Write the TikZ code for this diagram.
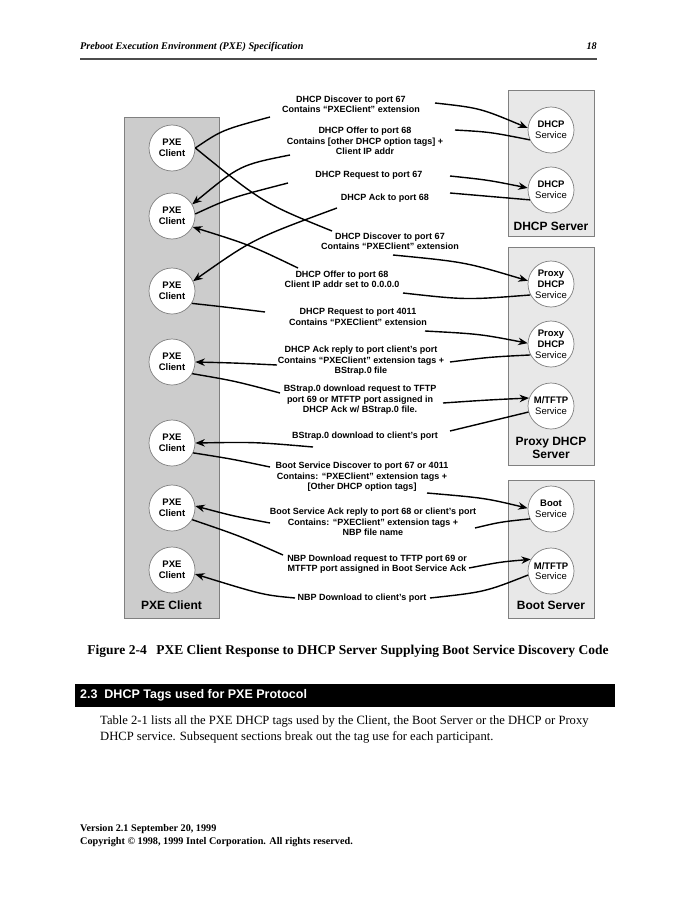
\documentclass[tikz,border=0pt]{standalone}
\usepackage{fontspec}
\setmainfont{Liberation Serif}
\setsansfont{Liberation Sans}
\usetikzlibrary{arrows.meta}

\definecolor{clientgray}{gray}{0.80}
\definecolor{servergray}{gray}{0.91}
\definecolor{edgegray}{gray}{0.50}

\tikzset{
  clientbox/.style={draw=edgegray, fill=clientgray, line width=0.8pt},
  serverbox/.style={draw=edgegray, fill=servergray, line width=0.8pt},
  station/.style={circle, draw=edgegray, fill=white, line width=0.7pt,
    minimum size=46pt, inner sep=0pt, align=center,
    font=\sffamily\fontsize{9.5}{10.8}\selectfont},
  msg/.style={align=center, inner sep=0pt,
    font=\sffamily\bfseries\fontsize{9}{10.4}\selectfont},
  boxlabel/.style={align=center, inner sep=0pt,
    font=\sffamily\bfseries\fontsize{12}{13.5}\selectfont},
  wire/.style={line width=1.4pt},
  send/.style={wire, -{Stealth[length=9.5pt,width=7.5pt]}},
}

\begin{document}
\begin{tikzpicture}[x=1pt,y=-1pt]
    \useasboundingbox (0,0) rectangle (695,899);
    \fill[white] (0,0) rectangle (695,899);

    % page header
    \node[anchor=base west, inner sep=0pt, font=\bfseries\itshape\fontsize{10.2}{12}\selectfont] (title) at (80,50) {Preboot Execution Environment (PXE) Specification};
    \node[anchor=base east, inner sep=0pt, font=\bfseries\itshape\fontsize{10.2}{12}\selectfont] (pageno) at (597,50) {18};
    \draw[line width=1.4pt, black!70] (80,59) -- (597,59);

    % the four boxes
    \draw[clientbox] (124,117) rectangle (219,618);
    \draw[serverbox] (508,90) rectangle (594,236);
    \draw[serverbox] (508,247) rectangle (594,465);
    \draw[serverbox] (508,480) rectangle (594,618);
    \node[boxlabel] (pxelabel) at (171.5,605) {PXE Client};
    \node[boxlabel] (dhcplabel) at (551,226) {DHCP Server};
    \node[boxlabel] (proxylabel) at (551,448) {Proxy DHCP\\Server};
    \node[boxlabel] (bootlabel) at (551,605) {Boot Server};

    % clients
    \foreach \n/\y in {1/148,2/216,3/291,4/362,5/443,6/508,7/570}
        \node[station] (c\n) at (172,\y) {\textbf{PXE}\\\textbf{Client}};

    % services
    \node[station] (d1) at (551,130) {\textbf{DHCP}\\Service};
    \node[station] (d2) at (551,190) {\textbf{DHCP}\\Service};
    \node[station] (p1) at (551,284) {\textbf{Proxy}\\\textbf{DHCP}\\Service};
    \node[station] (p2) at (551,344) {\textbf{Proxy}\\\textbf{DHCP}\\Service};
    \node[station] (p3) at (551,406) {\textbf{M/TFTP}\\Service};
    \node[station] (b1) at (551,509) {\textbf{Boot}\\Service};
    \node[station] (b2) at (551,571) {\textbf{M/TFTP}\\Service};

    % messages
    \node[msg] (l1) at (351,104) {DHCP Discover to port 67\\Contains “PXEClient” extension};
    \node[msg] (l2) at (365,141) {DHCP Offer to port 68\\Contains [other DHCP option tags] +\\Client IP addr};
    \node[msg] (l3) at (369,175) {DHCP Request to port 67};
    \node[msg] (l4) at (385,198) {DHCP Ack to port 68};
    \node[msg] (l5) at (390,241) {DHCP Discover to port 67\\Contains “PXEClient” extension};
    \node[msg] (l6) at (342,279) {DHCP Offer to port 68\\Client IP addr set to 0.0.0.0};
    \node[msg] (l7) at (358,317) {DHCP Request to port 4011\\Contains “PXEClient” extension};
    \node[msg] (l8) at (361,361) {DHCP Ack reply to port client’s port\\Contains “PXEClient” extension tags +\\BStrap.0 file};
    \node[msg] (l9) at (360,400) {BStrap.0 download request to TFTP\\port 69 or MTFTP port assigned in\\DHCP Ack w/ BStrap.0 file.};
    \node[msg] (l10) at (365,436) {BStrap.0 download to client’s port};
    \node[msg] (l11) at (362,477) {Boot Service Discover to port 67 or 4011\\Contains: “PXEClient” extension tags +\\{[}Other DHCP option tags{]}};
    \node[msg] (l12) at (373,522) {Boot Service Ack reply to port 68 or client’s port\\Contains: “PXEClient” extension tags +\\NBP file name};
    \node[msg] (l13) at (377,564) {NBP Download request to TFTP port 69 or\\MTFTP port assigned in Boot Service Ack};
    \node[msg] (l14) at (362,598) {NBP Download to client’s port};

    % loose ends beside the messages
    \coordinate (a1) at (270,117);   \coordinate (b1e) at (435,103);
    \coordinate (a2) at (290,155);   \coordinate (b2e) at (455,130);
    \coordinate (a3) at (288,183);   \coordinate (b3e) at (450,176);
    \coordinate (a4) at (337,208);   \coordinate (b4e) at (450,193);
    \coordinate (a5) at (332,231);   \coordinate (b5e) at (393,255);
    \coordinate (a6) at (298,268);   \coordinate (b6e) at (403,293);
    \coordinate (a7) at (265,312);   \coordinate (b7e) at (425,331);
    \coordinate (a8) at (277,365);   \coordinate (b8e) at (450,362);
    \coordinate (a9) at (280,393);   \coordinate (b9e) at (443,403);
    \coordinate (a10) at (313,447);  \coordinate (b10e) at (450,431);
    \coordinate (a11) at (270,467);  \coordinate (b11e) at (427,493);
    \coordinate (a12) at (270,523);  \coordinate (b12e) at (475,528);
    \coordinate (a13) at (283,555);  \coordinate (b13e) at (469,568);
    \coordinate (a14) at (295,598);  \coordinate (b14e) at (430,598);

    % DHCP server exchange
    \draw[wire] (c1.east) .. controls (222,130) .. (a1);
    \draw[send] (b1e) .. controls (480,108) .. (d1.175);
    \draw[wire] (d1.205) .. controls (490,132) .. (b2e);
    \draw[send] (a2) .. controls (240,165) .. (c2.30);
    \draw[wire] (c2.5) .. controls (230,198) .. (a3);
    \draw[send] (b3e) .. controls (488,180) .. (d2.175);
    \draw[wire] (d2.205) .. controls (490,196) .. (b4e);
    \draw[send] (a4) .. controls (253,239) .. (c3.25);

    % proxy DHCP exchange
    \draw[wire] (c1.east) .. controls (263,203) .. (a5);
    \draw[send] (b5e) .. controls (465,262) .. (p1.172);
    \draw[wire] (p1.208) .. controls (466,300) .. (b6e);
    \draw[send] (a6) .. controls (250,245) .. (c2.-28);
    \draw[wire] (c3.-32) .. controls (225,307) .. (a7);
    \draw[send] (b7e) .. controls (480,334) .. (p2.178);
    \draw[wire] (p2.208) .. controls (490,357) .. (b8e);
    \draw[send] (a8) .. controls (236,363) .. (c4.east);
    \draw[wire] (c4.-30) .. controls (235,381) .. (a9);
    \draw[send] (b9e) .. controls (487,400) .. (p3.160);
    \draw[wire] (p3.195) .. controls (490,422) .. (b10e);
    \draw[send] (a10) .. controls (255,442) .. (c5.east);

    % boot server exchange
    \draw[wire] (c5.-25) .. controls (232,459) .. (a11);
    \draw[send] (b11e) .. controls (485,498) .. (b1.178);
    \draw[wire] (b1.205) .. controls (500,522) .. (b12e);
    \draw[send] (a12) .. controls (233,516) .. (c6.5);
    \draw[wire] (c6.-30) .. controls (240,536) .. (a13);
    \draw[send] (b13e) .. controls (500,562) .. (b2.150);
    \draw[wire] (b2.190) .. controls (485,592) .. (b14e);
    \draw[send] (a14) .. controls (263,595) .. (c7.-10);

    % caption and the text below
    \node[anchor=base, inner sep=0pt, font=\bfseries\fontsize{13.5}{15}\selectfont] (caption) at (348,654) {Figure 2-4\hspace{0.45em} PXE Client Response to DHCP Server Supplying Boot Service Discovery Code};
    \fill[black] (75,684) rectangle (615,707);
    \node[anchor=west, inner sep=0pt, text=white, font=\sffamily\bfseries\fontsize{12.5}{14}\selectfont] (section) at (80,695.5) {2.3\hspace{0.55em}DHCP Tags used for PXE Protocol};
    \node[anchor=north west, inner sep=0pt, align=left, font=\fontsize{12.6}{16}\selectfont] (para) at (100,716) {Table 2-1 lists all the PXE DHCP tags used by the Client, the Boot Server or the DHCP or Proxy\\DHCP service. Subsequent sections break out the tag use for each participant.};

    % page footer
    \node[anchor=north west, inner sep=0pt, align=left, font=\bfseries\fontsize{10.2}{13}\selectfont] (footer) at (80,824) {Version 2.1 September 20, 1999\\Copyright © 1998, 1999 Intel Corporation. All rights reserved.};
\end{tikzpicture}
\end{document}
